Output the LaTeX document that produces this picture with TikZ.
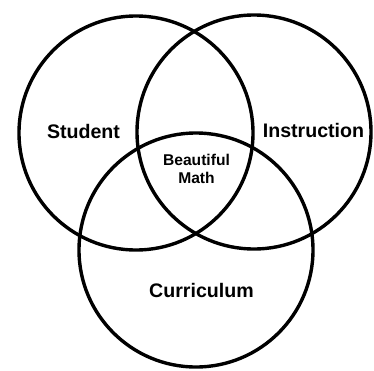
\documentclass[tikz,border=0pt]{standalone}
\usepackage{fontspec}
\setmainfont{Liberation Sans}
\begin{document}
\begin{tikzpicture}[x=1pt,y=-1pt,
  ring/.style={draw=black,line width=3.4pt},
  lbl/.style={anchor=base,inner sep=0pt,font=\bfseries\fontsize{19.6}{22}\selectfont},
  mid/.style={anchor=base,inner sep=0pt,font=\bfseries\fontsize{15.6}{18.5}\selectfont}]
\useasboundingbox (0,0) rectangle (374,370);
\coordinate (cs) at (136,133);
\coordinate (ci) at (254,132);
\coordinate (cc) at (196,250);
\draw[ring] (cs) circle (117);
\draw[ring] (ci) circle (117);
\draw[ring] (cc) circle (117);
\node[lbl] (student) at (83.5,138) {Student};
\node[lbl] (instruction) at (313.5,137.7) {Instruction};
\node[lbl] (curriculum) at (201.5,297) {Curriculum};
\node[mid] (beautiful) at (196.5,165) {Beautiful};
\node[mid] (math) at (196.5,183.3) {Math};
\end{tikzpicture}
\end{document}
